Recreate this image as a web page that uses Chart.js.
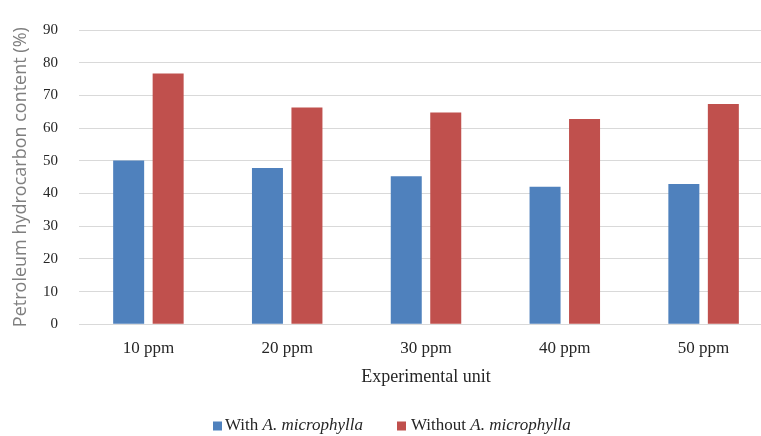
<!DOCTYPE html>
<html>
<head>
<meta charset="utf-8">
<script src="https://cdn.jsdelivr.net/npm/chart.js@4/dist/chart.umd.min.js"></script>
<style>
  html, body { margin: 0; padding: 0; background: #fff; overflow: hidden; }
  #wrap { width: 775px; height: 436px; }
</style>
</head>
<body>
<div id="wrap"><canvas id="myChart" width="775" height="436"></canvas></div>
<script>
"use strict";

const categories = ["10 ppm", "20 ppm", "30 ppm", "40 ppm", "50 ppm"];
const withMicrophylla = [50.1, 47.8, 45.3, 42.1, 42.9];
const withoutMicrophylla = [76.7, 66.3, 64.8, 62.8, 67.4];
const yTicks = [0, 10, 20, 30, 40, 50, 60, 70, 80, 90];

const blue = "#4F81BD";
const red = "#C0504D";
const serif = '"Liberation Serif", "Times New Roman", serif';

// legend with italic species name, drawn by hand
const legendPlugin = {
  id: "mixedLegend",
  afterDraw(chart) {
    const ctx = chart.ctx;
    const items = [
      { color: blue, box: 213, text: 225, plain: "With ", italic: "A. microphylla" },
      { color: red, box: 397, text: 411, plain: "Without ", italic: "A. microphylla" },
    ];
    const y = 426;
    ctx.save();
    ctx.textBaseline = "middle";
    items.forEach((it) => {
      ctx.fillStyle = it.color;
      ctx.fillRect(it.box, y - 4.5, 9, 9);
      ctx.fillStyle = "#262626";
      ctx.font = "17px " + serif;
      ctx.fillText(it.plain, it.text, y);
      const w = ctx.measureText(it.plain).width;
      ctx.font = "italic 17px " + serif;
      ctx.fillText(it.italic, it.text + w, y);
    });
    ctx.restore();
  },
};

const data = {
  labels: categories,
  datasets: [
    {
      label: "With A. microphylla",
      data: withMicrophylla,
      backgroundColor: blue,
      categoryPercentage: 0.569,
      barPercentage: 0.785,
    },
    {
      label: "Without A. microphylla",
      data: withoutMicrophylla,
      backgroundColor: red,
      categoryPercentage: 0.569,
      barPercentage: 0.785,
    },
  ],
};

const config = {
  type: "bar",
  data: data,
  plugins: [legendPlugin],
  options: {
    responsive: false,
    animation: false,
    layout: {
      padding: { left: 0, right: 2, top: 20, bottom: 48 },
    },
    plugins: {
      legend: { display: false },
      tooltip: { enabled: false },
    },
    scales: {
      x: {
        grid: { display: false, drawTicks: false },
        border: { display: true, color: "#D9D9D9", width: 1 },
        ticks: {
          color: "#262626",
          padding: 14,
          font: { family: serif, size: 17 },
        },
        title: {
          display: true,
          text: "Experimental unit",
          color: "#262626",
          padding: 0,
          font: { family: serif, size: 18 },
        },
        afterFit(scale) {
          scale.height = 63.7;
        },
      },
      y: {
        min: 0,
        max: 90,
        afterBuildTicks(scale) {
          scale.ticks = yTicks.map((v) => ({ value: v }));
        },
        grid: { color: "#D9D9D9", lineWidth: 1, drawTicks: false },
        border: { display: false },
        ticks: {
          color: "#262626",
          padding: 21,
          font: { family: serif, size: 15 },
        },
        title: {
          display: true,
          text: "Petroleum hydrocarbon content (%)",
          color: "#7F7F7F",
          padding: { top: 10, bottom: 0 },
          font: { family: '"Open Sans", sans-serif', size: 18 },
        },
        afterFit(scale) {
          scale.width = 79;
        },
      },
    },
  },
};

const myChart = new Chart(document.getElementById("myChart"), config);
</script>
</body>
</html>
